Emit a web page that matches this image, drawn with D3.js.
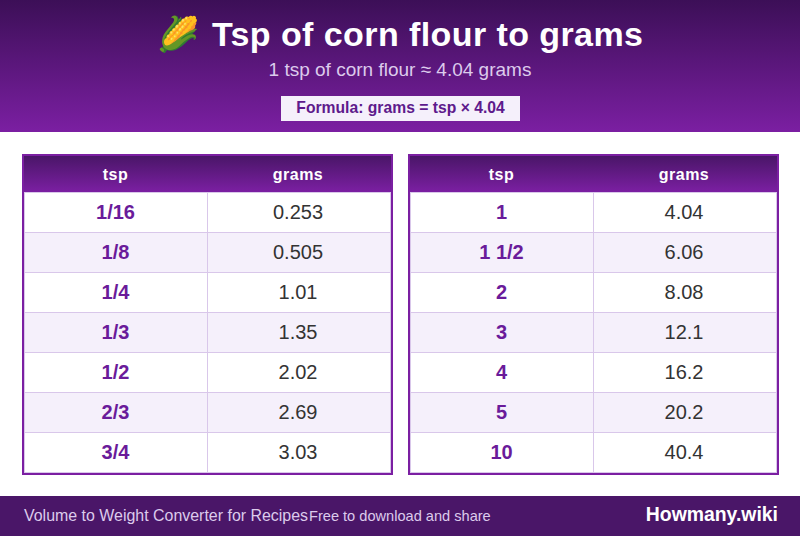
<!DOCTYPE html>
<html>
<head>
<meta charset="utf-8">
<script src="https://cdn.jsdelivr.net/npm/d3@7"></script>
<style>
  html, body { margin: 0; padding: 0; background: #fff; }
  svg { display: block; }
  text { font-family: "Liberation Sans", Arial, sans-serif; text-rendering: optimizeSpeed; }
</style>
</head>
<body>
<script>
var leftTsp = ["1/16", "1/8", "1/4", "1/3", "1/2", "2/3", "3/4"];
var leftGrams = ["0.253", "0.505", "1.01", "1.35", "2.02", "2.69", "3.03"];
var rightTsp = ["1", "1 1/2", "2", "3", "4", "5", "10"];
var rightGrams = ["4.04", "6.06", "8.08", "12.1", "16.2", "20.2", "40.4"];
var columnNames = ["tsp", "grams"];

window.onload = function() {

    // Dimensions
    var w = 800, h = 536;

    // SVG container
    var svg = d3.select("body")
        .append("svg")
        .attr("width", w)
        .attr("height", h);

    // Gradients
    var defs = svg.append("defs");
    function gradient(id, from, to) {
        var g = defs.append("linearGradient")
            .attr("id", id)
            .attr("x1", 0).attr("y1", 0)
            .attr("x2", 0).attr("y2", 1);
        g.append("stop").attr("offset", 0).attr("stop-color", from);
        g.append("stop").attr("offset", 1).attr("stop-color", to);
    }
    gradient("banner", "#3c0f57", "#7b1fa2");
    gradient("thead", "#4a1668", "#7b1fa2");

    // Banner
    svg.append("rect")
        .attr("width", w)
        .attr("height", 132)
        .attr("fill", "url(#banner)");

    var title = svg.append("text")
        .attr("x", 400)
        .attr("y", 46)
        .attr("text-anchor", "middle")
        .attr("fill", "#fff")
        .attr("font-size", 34)
        .attr("letter-spacing", 0.42)
        .attr("font-weight", "bold");

    title.append("tspan").text("🌽 ");
    title.append("tspan").attr("dx", 3).text("Tsp of corn flour to grams");

    svg.append("text")
        .attr("x", 400)
        .attr("y", 76)
        .attr("text-anchor", "middle")
        .attr("fill", "#dccbec")
        .attr("font-size", 19)
        .text("1 tsp of corn flour ≈ 4.04 grams");

    svg.append("rect")
        .attr("x", 281)
        .attr("y", 96)
        .attr("width", 239)
        .attr("height", 25)
        .attr("fill", "#f5f0fb");

    svg.append("text")
        .attr("x", 400.5)
        .attr("y", 113)
        .attr("text-anchor", "middle")
        .attr("fill", "#5e1a8c")
        .attr("font-size", 15.7)
        .attr("font-weight", "bold")
        .text("Formula: grams = tsp × 4.04");

    // Tables
    function drawTable(left, tsp, grams) {
        var g = svg.append("g");
        var rows = d3.range(tsp.length);
        var colX = { tsp: left + 2, grams: left + 185 };
        var colW = { tsp: 183, grams: 182 };

        var y = d3.scaleBand()
            .domain(rows)
            .range([192, 472]);

        // Header row
        g.append("rect")
            .attr("x", left + 2)
            .attr("y", 156)
            .attr("width", 367)
            .attr("height", 36)
            .attr("fill", "url(#thead)");

        g.selectAll(".head")
            .data(columnNames)
            .enter()
            .append("text")
            .attr("class", "head")
            .attr("x", d => colX[d] + colW[d] / 2)
            .attr("y", 180)
            .attr("text-anchor", "middle")
            .attr("fill", "#fff")
            .attr("font-size", 16)
            .attr("letter-spacing", 0.5)
            .attr("font-weight", "bold")
            .text(d => d);

        // Row stripes
        g.selectAll(".stripe")
            .data(rows)
            .enter()
            .append("rect")
            .attr("class", "stripe")
            .attr("x", left + 2)
            .attr("y", d => y(d))
            .attr("width", 367)
            .attr("height", y.bandwidth() + 1)
            .attr("fill", d => d % 2 ? "#f5f0fb" : "#fff");

        // Cell borders
        g.selectAll(".rule")
            .data(rows.concat(rows.length))
            .enter()
            .append("rect")
            .attr("class", "rule")
            .attr("x", left + 2)
            .attr("y", d => 192 + d * y.bandwidth())
            .attr("width", 367)
            .attr("height", 1)
            .attr("fill", "#d9c7ea");

        g.selectAll(".vrule")
            .data([2, 185, 368])
            .enter()
            .append("rect")
            .attr("class", "vrule")
            .attr("x", d => left + d)
            .attr("y", 192)
            .attr("width", 1)
            .attr("height", 281)
            .attr("fill", "#d9c7ea");

        // Outer frame
        g.append("rect")
            .attr("x", left + 1)
            .attr("y", 155)
            .attr("width", 369)
            .attr("height", 319)
            .attr("fill", "none")
            .attr("stroke", "#7b1fa2")
            .attr("stroke-width", 2);

        // Cell text
        g.selectAll(".tsp")
            .data(tsp)
            .enter()
            .append("text")
            .attr("class", "tsp")
            .attr("x", colX.tsp + colW.tsp / 2)
            .attr("y", (d, i) => y(i) + 27)
            .attr("text-anchor", "middle")
            .attr("fill", "#6a1b9a")
            .attr("font-size", 20)
            .attr("font-weight", "bold")
            .text(d => d);

        g.selectAll(".grams")
            .data(grams)
            .enter()
            .append("text")
            .attr("class", "grams")
            .attr("x", colX.grams + colW.grams / 2)
            .attr("y", (d, i) => y(i) + 27)
            .attr("text-anchor", "middle")
            .attr("fill", "#333")
            .attr("font-size", 20)
            .text(d => d);
    }

    drawTable(22, leftTsp, leftGrams);
    drawTable(408, rightTsp, rightGrams);

    // Footer
    svg.append("rect")
        .attr("y", 496)
        .attr("width", w)
        .attr("height", 40)
        .attr("fill", "#4a1668");

    svg.append("text")
        .attr("x", 24)
        .attr("y", 521)
        .attr("fill", "#dccbec")
        .attr("font-size", 15.95)
        .text("Volume to Weight Converter for Recipes");

    svg.append("text")
        .attr("x", 309)
        .attr("y", 521)
        .attr("fill", "#dccbec")
        .attr("font-size", 14.6)
        .text("Free to download and share");

    svg.append("text")
        .attr("x", 778)
        .attr("y", 521)
        .attr("text-anchor", "end")
        .attr("fill", "#fff")
        .attr("font-size", 19.4)
        .attr("font-weight", "bold")
        .text("Howmany.wiki");
};
</script>
</body>
</html>
